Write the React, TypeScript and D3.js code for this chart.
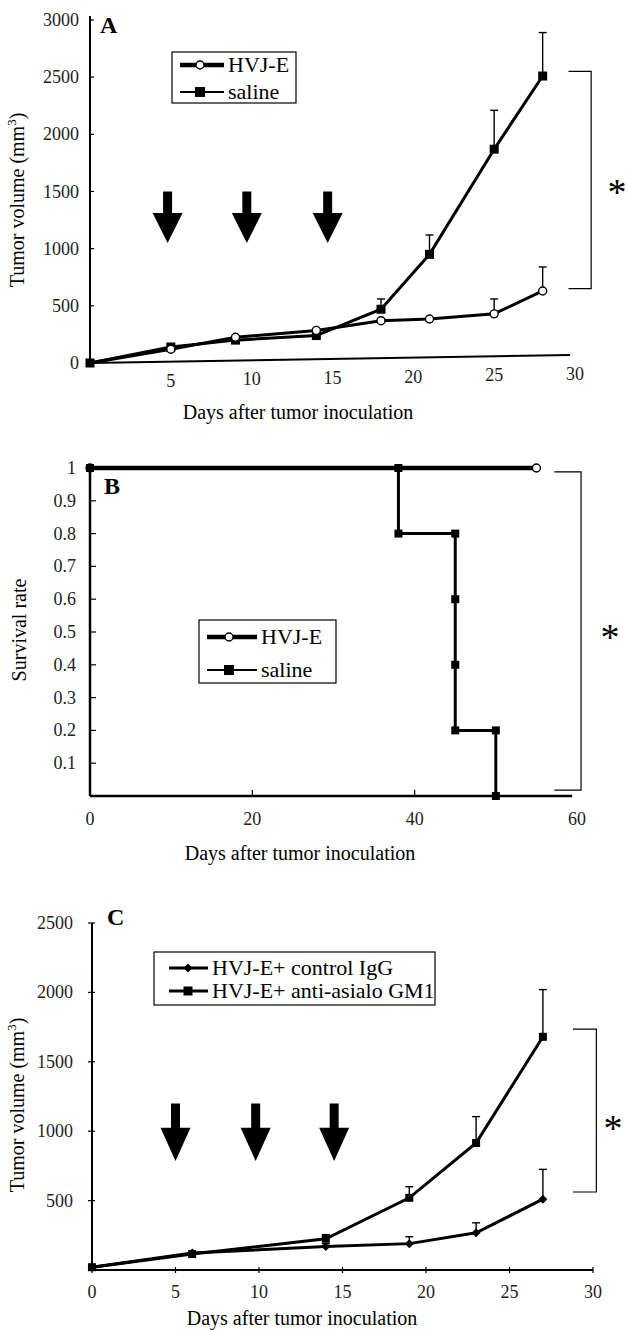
import React from "react";
import * as d3 from "d3";

// ---- panel A: tumor volume, HVJ-E vs saline
const daysA = [0, 5, 9, 14, 18, 21, 25, 28];
const hvjA = [0, 120, 225, 285, 370, 385, 430, 630];
const hvjAErr = [0, 0, 0, 0, 0, 0, 130, 210];
const salineA = [0, 140, 200, 240, 470, 950, 1870, 2510];
const salineAErr = [0, 0, 0, 0, 90, 170, 340, 380];
const yTicksA = [0, 500, 1000, 1500, 2000, 2500, 3000];
const xTicksA = [5, 10, 15, 20, 25, 30];
const arrowsA = [4.8, 9.7, 14.7];

// ---- panel B: survival
const hvjBDays = [0, 55];
const hvjBSurv = [1, 1];
const salineBDays = [0, 38, 38, 45, 45, 45, 45, 50, 50];
const salineBSurv = [1, 1, 0.8, 0.8, 0.6, 0.4, 0.2, 0.2, 0];
const yTicksB = [0.1, 0.2, 0.3, 0.4, 0.5, 0.6, 0.7, 0.8, 0.9, 1];
const xTicksB = [0, 20, 40, 60];

// ---- panel C: tumor volume, control IgG vs anti-asialo GM1
const daysC = [0, 6, 14, 19, 23, 27];
const iggC = [20, 122, 170, 190, 268, 510];
const iggCErr = [0, 0, 20, 50, 72, 215];
const asialoC = [20, 115, 225, 520, 915, 1680];
const asialoCErr = [0, 0, 30, 80, 190, 340];
const yTicksC = [500, 1000, 1500, 2000, 2500];
const xTicksC = [0, 5, 10, 15, 20, 25, 30];
const arrowsC = [5, 9.8, 14.5];

const serif = "'Liberation Serif', 'Times New Roman', serif";
const xTitle = "Days after tumor inoculation";

const xA = d3.scaleLinear().domain([0, 30]).range([90, 575]);
const yA = d3.scaleLinear().domain([0, 3000]).range([363, 20]);
const xB = d3.scaleLinear().domain([0, 60]).range([90, 577]);
const yB = d3.scaleLinear().domain([0, 1]).range([796, 468]);
const xC = d3.scaleLinear().domain([0, 30]).range([92, 593]);
const yC = d3.scaleLinear().domain([0, 2500]).range([1270, 923]);

type Scale = d3.ScaleLinear<number, number>;

function pathOf(xs: number[], ys: number[], x: Scale, y: Scale) {
  const pts: [number, number][] = xs.map((d, i) => [d, ys[i]]);
  return d3.line<[number, number]>().x(d => x(d[0])).y(d => y(d[1]))(pts) || "";
}

function Circle({ cx, cy }: { cx: number; cy: number }) {
  return <circle cx={cx} cy={cy} r={4} fill="#fff" stroke="#000" strokeWidth={1.4} />;
}
function Square({ cx, cy, s = 9 }: { cx: number; cy: number; s?: number }) {
  return <rect x={cx - s / 2} y={cy - s / 2} width={s} height={s} fill="#000" />;
}
function Diamond({ cx, cy }: { cx: number; cy: number }) {
  const r = 4.5;
  return <path d={`M${cx},${cy - r}L${cx + r},${cy}L${cx},${cy + r}L${cx - r},${cy}Z`} fill="#000" />;
}

function ErrorBars({ xs, ys, err, x, y }: { xs: number[]; ys: number[]; err: number[]; x: Scale; y: Scale }) {
  return (
    <g stroke="#000" strokeWidth={1.4}>
      {xs.map((d, i) =>
        err[i] > 0 ? (
          <g key={i}>
            <line x1={x(d)} x2={x(d)} y1={y(ys[i])} y2={y(ys[i] + err[i])} />
            <line x1={x(d) - 4} x2={x(d) + 4} y1={y(ys[i] + err[i])} y2={y(ys[i] + err[i])} />
          </g>
        ) : null
      )}
    </g>
  );
}

function Arrow({ cx, top, tip }: { cx: number; top: number; tip: number }) {
  const neck = top + (tip - top) * 0.42;
  const sw = 4.5;
  const hw = 15;
  const d = `M${cx - sw},${top}L${cx + sw},${top}L${cx + sw},${neck}L${cx + hw},${neck}L${cx},${tip}L${cx - hw},${neck}L${cx - sw},${neck}Z`;
  return <path d={d} fill="#000" />;
}

function Bracket({ x1, x2, y1, y2 }: { x1: number; x2: number; y1: number; y2: number }) {
  return <path d={`M${x1},${y1}H${x2}V${y2}H${x1}`} fill="none" stroke="#000" strokeWidth={1.2} />;
}

function Star({ x, y }: { x: number; y: number }) {
  return (
    <text x={x} y={y + 18} fontSize={38} textAnchor="middle" fontFamily={serif}>
      *
    </text>
  );
}

function YTitle({ x, y, children }: { x: number; y: number; children: React.ReactNode }) {
  return (
    <text transform={`translate(${x},${y}) rotate(-90)`} textAnchor="middle" fontSize={20} fontFamily={serif}>
      {children}
    </text>
  );
}

function VolumeTitle({ x, y }: { x: number; y: number }) {
  return (
    <YTitle x={x} y={y}>
      Tumor volume (mm
      <tspan fontSize={13} dy={-8}>3</tspan>
      <tspan dy={8}>)</tspan>
    </YTitle>
  );
}

function LegendRow({ x1, x2, y, label, marker, width }: { x1: number; x2: number; y: number; label: string; marker: React.ReactNode; width: number }) {
  return (
    <g>
      <line x1={x1} x2={x2} y1={y} y2={y} stroke="#000" strokeWidth={width} />
      {marker}
      <text x={x2 + 4} y={y + 7} fontSize={22} fontFamily={serif}>
        {label}
      </text>
    </g>
  );
}

export default function App() {
  const tick = { fontSize: 18, fontFamily: serif, fill: "#222" };
  const a0 = yA(0);
  const slant = (px: number) => ((px - xA(0)) * 8) / (xA(29.7) - xA(0));

  return (
    <svg width={628} height={1330} style={{ position: "absolute", left: 0, top: 0, background: "#fff" }}>
      {/* ================= Panel A ================= */}
      <g>
        <line x1={xA(0)} x2={xA(0)} y1={yA(3000) - 4} y2={a0} stroke="#000" strokeWidth={2} />
        <line x1={xA(0)} x2={xA(29.7)} y1={a0} y2={a0 - 8} stroke="#000" strokeWidth={2} />
        {yTicksA.map(t => (
          <g key={t}>
            <line x1={xA(0)} x2={xA(0) + 4} y1={yA(t)} y2={yA(t)} stroke="#000" strokeWidth={1.2} />
            <text x={79} y={yA(t) + 6} textAnchor="end" {...tick}>
              {t}
            </text>
          </g>
        ))}
        {xTicksA.map(t => (
          <text key={t} x={xA(t)} y={a0 + 25 - slant(xA(t))} textAnchor="middle" {...tick}>
            {t}
          </text>
        ))}
        <text x={298} y={419} textAnchor="middle" fontSize={20} fontFamily={serif}>
          {xTitle}
        </text>
        <VolumeTitle x={24} y={200} />
        <text x={100} y={33} fontSize={24} fontWeight="bold" fontFamily={serif}>
          A
        </text>

        {arrowsA.map(d => (
          <Arrow key={d} cx={xA(d)} top={yA(1500)} tip={yA(1050)} />
        ))}

        <ErrorBars xs={daysA} ys={salineA} err={salineAErr} x={xA} y={yA} />
        <ErrorBars xs={daysA} ys={hvjA} err={hvjAErr} x={xA} y={yA} />
        <path d={pathOf(daysA, salineA, xA, yA)} fill="none" stroke="#000" strokeWidth={3} />
        <path d={pathOf(daysA, hvjA, xA, yA)} fill="none" stroke="#000" strokeWidth={3} />
        {daysA.map((d, i) => (
          <Square key={"s" + i} cx={xA(d)} cy={yA(salineA[i])} />
        ))}
        {daysA.map((d, i) => (i > 0 ? <Circle key={"c" + i} cx={xA(d)} cy={yA(hvjA[i])} /> : null))}

        <rect x={172} y={52} width={124} height={51} fill="#fff" stroke="#000" strokeWidth={1.2} />
        <LegendRow x1={180} x2={224} y={65} width={4.5} label="HVJ-E" marker={<Circle cx={200} cy={65} />} />
        <LegendRow x1={180} x2={224} y={92} width={2} label="saline" marker={<Square cx={200} cy={92} s={10} />} />

        <Bracket x1={xA(29.6)} x2={xA(31)} y1={yA(2550)} y2={yA(650)} />
        <Star x={617} y={187} />
      </g>

      {/* ================= Panel B ================= */}
      <g>
        <line x1={xB(0)} x2={xB(0)} y1={yB(1)} y2={yB(0)} stroke="#000" strokeWidth={2.5} />
        <line x1={xB(0)} x2={xB(59.4)} y1={yB(0)} y2={yB(0)} stroke="#000" strokeWidth={2.5} />
        {yTicksB.map(t => (
          <g key={t}>
            <line x1={xB(0)} x2={xB(0) + 6} y1={yB(t)} y2={yB(t)} stroke="#000" strokeWidth={1.2} />
            <text x={76} y={yB(t) + 6} textAnchor="end" {...tick}>
              {t}
            </text>
          </g>
        ))}
        {xTicksB.map(t => (
          <g key={t}>
            {t > 0 && t < 60 ? <line x1={xB(t)} x2={xB(t)} y1={yB(0)} y2={yB(0) - 6} stroke="#000" strokeWidth={1.2} /> : null}
            <text x={xB(t)} y={825} textAnchor="middle" {...tick}>
              {t}
            </text>
          </g>
        ))}
        <text x={300} y={860} textAnchor="middle" fontSize={20} fontFamily={serif}>
          {xTitle}
        </text>
        <YTitle x={26} y={630}>Survival rate</YTitle>
        <text x={104} y={494} fontSize={24} fontWeight="bold" fontFamily={serif}>
          B
        </text>

        <path d={pathOf(salineBDays, salineBSurv, xB, yB)} fill="none" stroke="#000" strokeWidth={3} />
        <path d={pathOf(hvjBDays, hvjBSurv, xB, yB)} fill="none" stroke="#000" strokeWidth={4.5} />
        {hvjBDays.map((d, i) => (
          <Circle key={"c" + i} cx={xB(d)} cy={yB(hvjBSurv[i])} />
        ))}
        {salineBDays.map((d, i) => (
          <Square key={"s" + i} cx={xB(d)} cy={yB(salineBSurv[i])} s={8} />
        ))}

        <rect x={199} y={620} width={137} height={63} fill="#fff" stroke="#000" strokeWidth={1.2} />
        <LegendRow x1={207} x2={257} y={637} width={4.5} label="HVJ-E" marker={<Circle cx={229} cy={637} />} />
        <LegendRow x1={207} x2={257} y={670} width={2} label="saline" marker={<Square cx={229} cy={670} s={10} />} />

        <Bracket x1={xB(57.2)} x2={xB(60.5)} y1={yB(0.988)} y2={yB(0.018)} />
        <Star x={610} y={632} />
      </g>

      {/* ================= Panel C ================= */}
      <g>
        <line x1={xC(0)} x2={xC(0)} y1={yC(2500)} y2={yC(0)} stroke="#000" strokeWidth={2} />
        <line x1={xC(0)} x2={xC(30)} y1={yC(0)} y2={yC(0)} stroke="#000" strokeWidth={2} />
        {yTicksC.map(t => (
          <g key={t}>
            <line x1={xC(0) - 4} x2={xC(0) + 3} y1={yC(t)} y2={yC(t)} stroke="#000" strokeWidth={1.2} />
            <text x={73} y={yC(t) + 6} textAnchor="end" {...tick}>
              {t}
            </text>
          </g>
        ))}
        {xTicksC.map(t => (
          <g key={t}>
            <line x1={xC(t)} x2={xC(t)} y1={yC(0) - 3} y2={yC(0) + 3} stroke="#000" strokeWidth={1.2} />
            <text x={xC(t)} y={1298} textAnchor="middle" {...tick}>
              {t}
            </text>
          </g>
        ))}
        <text x={302} y={1325} textAnchor="middle" fontSize={20} fontFamily={serif}>
          {xTitle}
        </text>
        <VolumeTitle x={24} y={1105} />
        <text x={107} y={925} fontSize={24} fontWeight="bold" fontFamily={serif}>
          C
        </text>

        {arrowsC.map(d => (
          <Arrow key={d} cx={xC(d)} top={yC(1200)} tip={yC(785)} />
        ))}

        <ErrorBars xs={daysC} ys={asialoC} err={asialoCErr} x={xC} y={yC} />
        <ErrorBars xs={daysC} ys={iggC} err={iggCErr} x={xC} y={yC} />
        <path d={pathOf(daysC, asialoC, xC, yC)} fill="none" stroke="#000" strokeWidth={3} />
        <path d={pathOf(daysC, iggC, xC, yC)} fill="none" stroke="#000" strokeWidth={3} />
        {daysC.map((d, i) => (
          <Square key={"s" + i} cx={xC(d)} cy={yC(asialoC[i])} s={8} />
        ))}
        {daysC.map((d, i) => (
          <Diamond key={"d" + i} cx={xC(d)} cy={yC(iggC[i])} />
        ))}

        <rect x={154} y={952} width={281} height={53} fill="#fff" stroke="#000" strokeWidth={1.2} />
        <LegendRow x1={169} x2={208} y={968} width={3} label="HVJ-E+ control IgG" marker={<Diamond cx={188} cy={968} />} />
        <LegendRow x1={169} x2={208} y={991} width={3} label="HVJ-E+ anti-asialo GM1" marker={<Square cx={188} cy={991} s={9} />} />

        <Bracket x1={xC(28.8)} x2={xC(30.2)} y1={yC(1736)} y2={yC(562)} />
        <Star x={613} y={1123} />
      </g>
    </svg>
  );
}
